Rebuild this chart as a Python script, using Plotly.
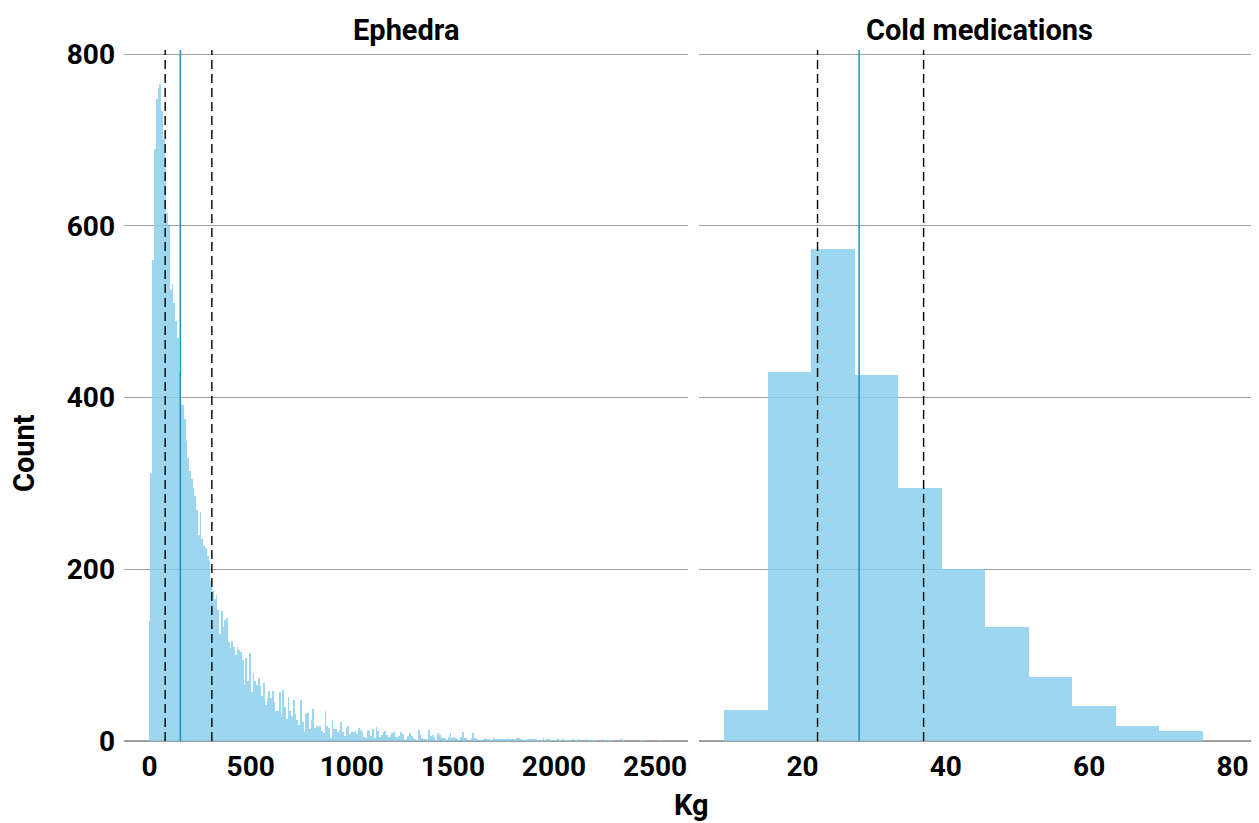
import plotly.graph_objects as go

# ---------------- data ----------------
panel_titles = ["Ephedra", "Cold medications"]

# Ephedra histogram: counts per bin (bins centred on 0, 8.7, 17.4, ... kg)
ephedra_binwidth = 8.7
ephedra_counts = [
    140, 312, 560, 690, 748, 761, 765, 734, 701, 680,
    615, 600, 525, 532, 510, 489, 470, 430, 392, 392,
    375, 350, 330, 315, 305, 295, 285, 269, 240, 267,
    235, 227, 225, 215, 210, 186, 175, 165, 170, 153,
    125, 151, 133, 141, 143, 115, 108, 117, 109, 100,
    109, 106, 104, 94, 65, 97, 70, 102, 57, 79,
    70, 65, 73, 64, 52, 68, 42, 50, 58, 50,
    58, 45, 35, 35, 57, 30, 60, 40, 26, 51,
    35, 29, 48, 32, 25, 19, 48, 22, 11, 32,
    33, 14, 25, 37, 15, 18, 16, 17, 12, 9,
    35, 18, 15, 4, 25, 14, 14, 11, 13, 22,
    10, 6, 15, 17, 8, 10, 10, 13, 8, 15,
    13, 10, 5, 4, 13, 12, 6, 14, 4, 16,
    12, 5, 7, 10, 12, 7, 5, 7, 9, 10,
    5, 5, 6, 10, 8, 1, 2, 6, 9, 6,
    4, 2, 1, 13, 8, 3, 2, 2, 1, 13,
    6, 7, 5, 1, 9, 7, 5, 4, 3, 1,
    5, 9, 4, 5, 3, 2, 1, 5, 10, 3,
    4, 1, 1, 4, 9, 3, 2, 1, 1, 1,
    2, 4, 2, 2, 1, 1, 3, 2, 2, 2,
    2, 2, 2, 2, 4, 2, 2, 2, 1, 3,
    3, 2, 1, 1, 1, 2, 2, 2, 2, 2,
    2, 1, 1, 1, 3, 1, 2, 2, 1, 1,
    1, 1, 2, 1, 1, 2, 1, 1, 1, 1,
    0, 2, 1, 1, 2, 1, 0, 0, 0, 2,
    1, 1, 1, 1, 1, 0, 0, 0, 2, 1,
    1, 1, 1, 1, 0, 0, 0, 0, 2, 1,
    1, 0, 0, 0, 0, 0, 0, 0, 0, 1,
    1, 1, 0, 0, 0, 0, 0, 0, 0, 0,
    1, 1,
]
ephedra_quartiles = [77, 308]   # dashed lines
ephedra_median = 152            # solid line

# Cold medications histogram
cold_start = 9.1
cold_binwidth = 6.07
cold_counts = [36, 430, 573, 426, 295, 200, 133, 74, 41, 17, 12]
cold_quartiles = [22.1, 36.9]
cold_median = 27.9

left_ticks = [0, 500, 1000, 1500, 2000, 2500]
right_ticks = [20, 40, 60, 80]
y_ticks = [0, 200, 400, 600, 800]

# ---------------- figure ----------------
bar_color = "rgba(135,206,235,0.82)"
median_color = "#2596be"
grid_color = "#a0a0a0"
FONT = "Roboto"

ephedra_x = [i * ephedra_binwidth for i in range(len(ephedra_counts))]
cold_x = [cold_start + cold_binwidth * (i + 0.5) for i in range(len(cold_counts))]

fig = go.Figure()
fig.add_trace(go.Bar(x=ephedra_x, y=ephedra_counts, width=ephedra_binwidth,
                     marker=dict(color=bar_color, line=dict(width=0)),
                     xaxis="x", yaxis="y", showlegend=False))
fig.add_trace(go.Bar(x=cold_x, y=cold_counts, width=cold_binwidth,
                     marker=dict(color=bar_color, line=dict(width=0)),
                     xaxis="x2", yaxis="y2", showlegend=False))

# page has an 8px body margin -> figure drawn 8px right/down
OFF = 8
W, H = 1259 - OFF, 823 - OFF
ML, MR, MT, MB = 124 - OFF, 0, 50 - OFF, 82
pw = W - ML - MR
ph = H - MT - MB

def px_x(page_x):
    return (page_x - OFF - ML) / pw

def px_y(page_y):
    return (H - MB - (page_y - OFF)) / ph

tickfont = dict(family=FONT, size=28, color="black", weight="bold")

fig.update_layout(
    width=W, height=H,
    margin=dict(l=ML, r=MR, t=MT, b=MB),
    paper_bgcolor="white", plot_bgcolor="white",
    bargap=0,
    xaxis=dict(domain=[0, px_x(688)], range=[-126.6, 2663],
               tickvals=left_ticks, showgrid=False, zeroline=False,
               showline=False, ticks="", tickfont=tickfont,
               ticklabelstandoff=6, anchor="y"),
    xaxis2=dict(domain=[px_x(699), 1], range=[5.56, 83.7],
                tickvals=right_ticks, showgrid=False, zeroline=False,
                showline=False, ticks="", tickfont=tickfont,
                ticklabelstandoff=6, anchor="y2"),
    yaxis=dict(range=[0, 805], tickvals=y_ticks, showgrid=True,
               gridcolor=grid_color, gridwidth=1.2, zeroline=True,
               zerolinecolor=grid_color, zerolinewidth=1.5,
               showline=False, ticks="", tickfont=tickfont,
               ticklabelstandoff=8, anchor="x"),
    yaxis2=dict(range=[0, 805], tickvals=y_ticks, showgrid=True,
                gridcolor=grid_color, gridwidth=1.2, zeroline=True,
                zerolinecolor=grid_color, zerolinewidth=1.5,
                showline=False, ticks="", showticklabels=False,
                anchor="x2", matches="y"),
)

shapes = []
for q in ephedra_quartiles:
    shapes.append(dict(type="line", xref="x", yref="y domain", x0=q, x1=q, y0=0, y1=1,
                       line=dict(color="black", width=1.4, dash="9px,5px")))
shapes.append(dict(type="line", xref="x", yref="y domain", x0=ephedra_median, x1=ephedra_median,
                   y0=0, y1=1, line=dict(color=median_color, width=1.6)))
for q in cold_quartiles:
    shapes.append(dict(type="line", xref="x2", yref="y2 domain", x0=q, x1=q, y0=0, y1=1,
                       line=dict(color="black", width=1.4, dash="9px,5px")))
shapes.append(dict(type="line", xref="x2", yref="y2 domain", x0=cold_median, x1=cold_median,
                   y0=0, y1=1, line=dict(color=median_color, width=1.6)))
fig.update_layout(shapes=shapes)

titlefont = dict(family=FONT, size=29, color="black", weight="bold")
anns = [
    dict(text=panel_titles[0], x=px_x((124 + 688) / 2), y=px_y(30), xref="paper", yref="paper",
         showarrow=False, xanchor="center", yanchor="middle", font=titlefont),
    dict(text=panel_titles[1], x=px_x((699 + 1259) / 2), y=px_y(30), xref="paper", yref="paper",
         showarrow=False, xanchor="center", yanchor="middle", font=titlefont),
    dict(text="Count", x=px_x(24), y=px_y(453), xref="paper", yref="paper",
         showarrow=False, xanchor="center", yanchor="middle", textangle=-90,
         borderpad=0, font=titlefont),
    dict(text="Kg", x=px_x(691), y=px_y(805), xref="paper", yref="paper",
         showarrow=False, xanchor="center", yanchor="middle", font=titlefont),
]
fig.update_layout(annotations=anns)

fig.write_html("out.html")
